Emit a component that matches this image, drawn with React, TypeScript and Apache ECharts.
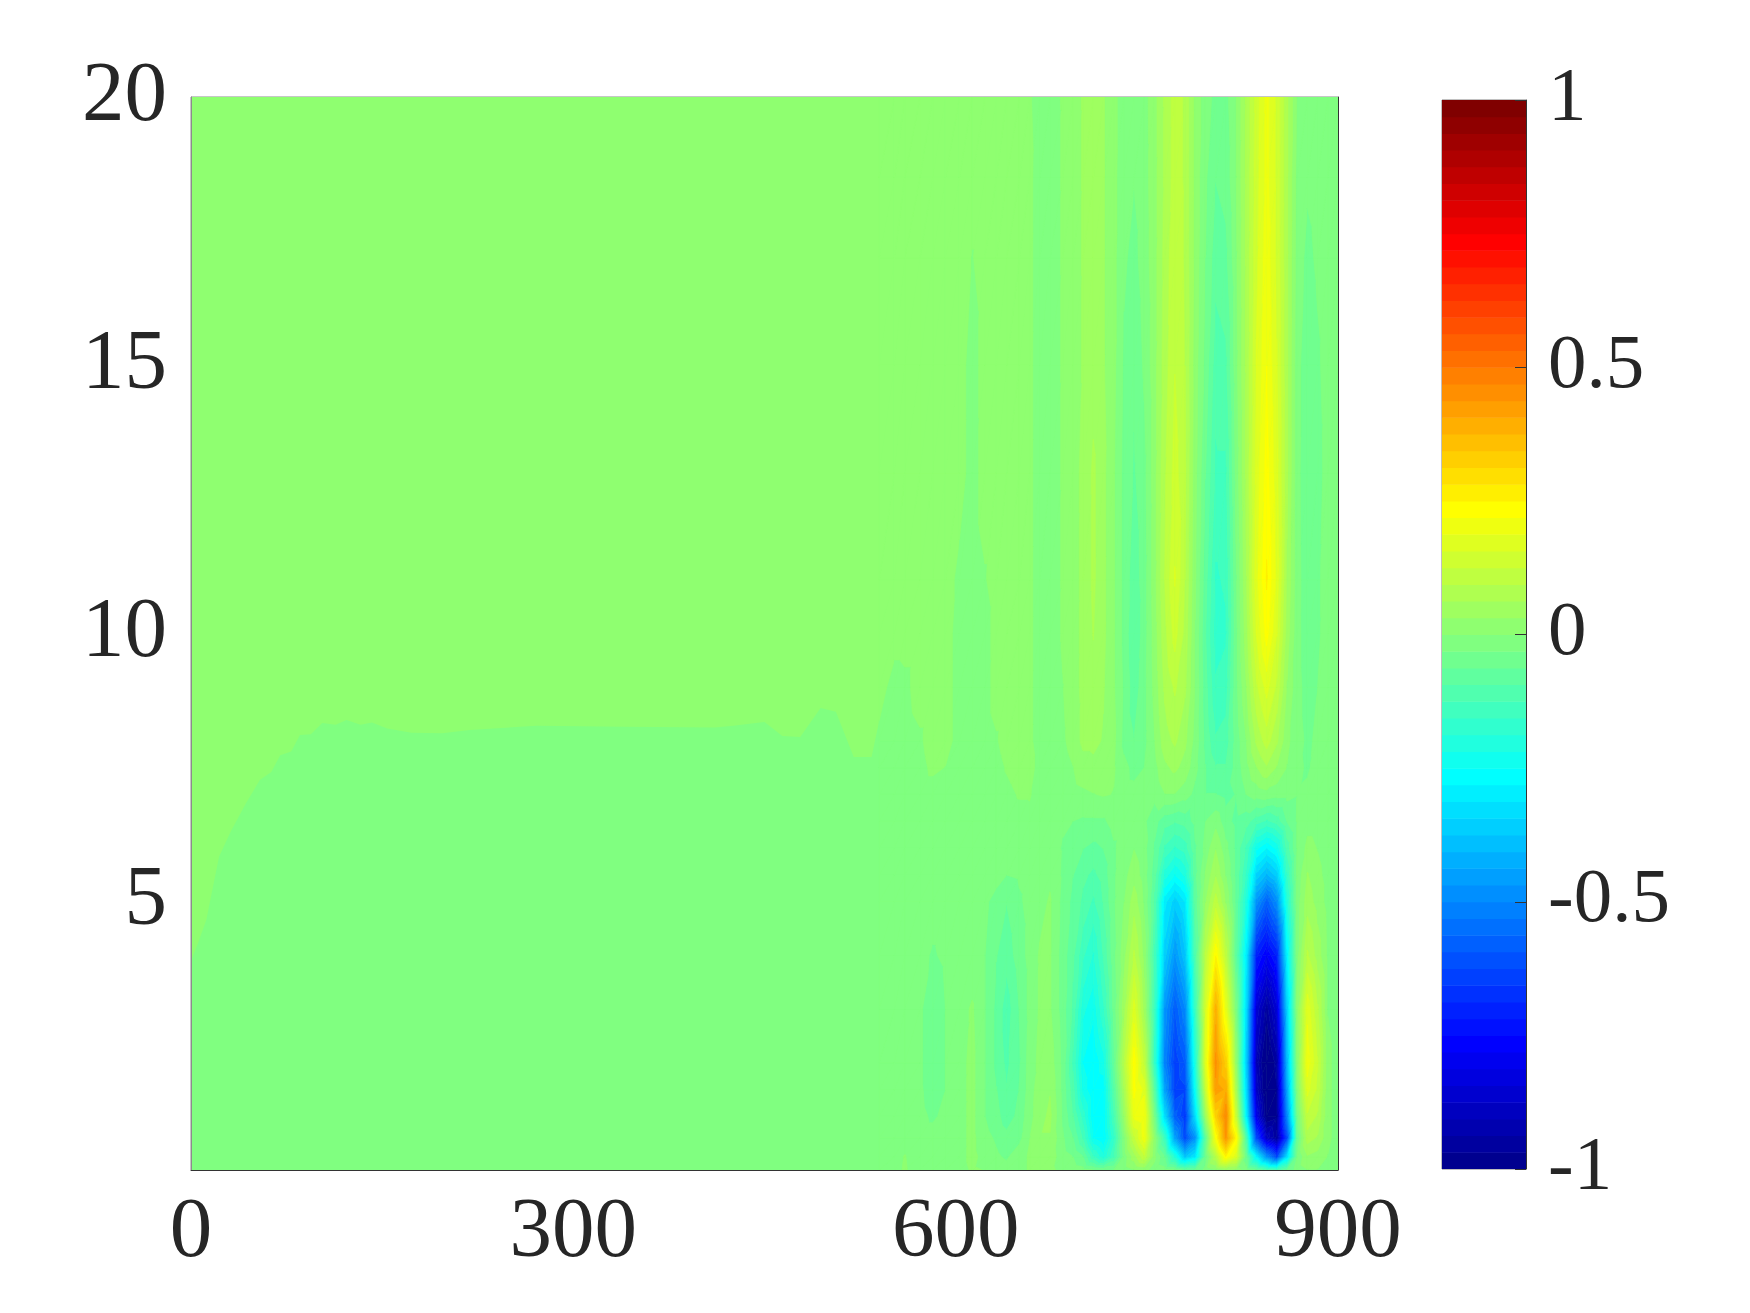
import React, { useEffect, useRef } from "react";
import * as echarts from "echarts";

const xTicks = [0, 300, 600, 900];
const yTicks = [5, 10, 15, 20];
const barTicks = [-1, -0.5, 0, 0.5, 1];
const levelCount = 64;
const zeroOffset = 0.03125;
const upperBase = 0.05;
const lowerBase = 0.012;

// the zero contour on the quiet left part of the field
const contourX = [0, 5, 12, 22, 31, 43, 54, 63, 70, 78.6, 85.5, 94, 103, 113.5, 122, 133, 142, 154, 173, 197, 218.7, 271, 340, 411, 425.5, 450, 464, 478, 494, 506, 520, 534, 540];
const contourY = [3.9, 4.2, 4.66, 5.84, 6.3, 6.83, 7.27, 7.42, 7.73, 7.8, 8.11, 8.12, 8.33, 8.3, 8.39, 8.3, 8.34, 8.23, 8.15, 8.14, 8.2, 8.28, 8.26, 8.25, 8.28, 8.35, 8.09, 8.07, 8.61, 8.54, 7.7, 7.7, 8.37];

const fieldX = [540, 552, 560, 572, 582, 592, 603, 613, 623, 632, 640, 650, 658, 666, 674, 684, 692, 700, 708, 716, 724, 732, 740, 748, 756, 764, 772, 780, 788, 796, 804, 812, 820, 828, 836, 844, 852, 860, 868, 876, 884, 892, 900];
const fieldY = [0, 0.25, 0.6, 1, 1.5, 2, 3, 4, 5, 5.5, 6, 6.5, 7, 7.5, 8, 9, 10, 11, 13, 15, 17, 18.5, 20];

const fieldLeft = [
  [.012,.02,.035,.012,.012,.012,.02,.035,.03,.02,.012,.02,.035,.04,.04],
  [.012,.02,.033,.012,.012,.012,.02,.04,.02,.005,-.005,.02,.035,.05,.05],
  [.012,.012,.015,.012,.012,.012,.02,.04,.01,-.005,-.02,-.01,.03,.06,.06],
  [.012,.012,.012,.008,-.005,.008,.02,.04,0,-.02,-.05,-.02,.02,.05,.07],
  [.012,.012,.012,.005,-.015,0,.02,.04,0,-.03,-.06,-.03,.015,.05,.06],
  [.012,.012,.012,.005,-.02,0,.02,.04,0,-.04,-.07,-.035,.015,.04,.05],
  [.012,.012,.012,.005,-.02,0,.02,.035,0,-.04,-.08,-.03,.01,.035,.035],
  [.012,.012,.012,.008,-.003,.005,.012,.012,0,-.03,-.05,-.015,.01,.035,.035],
  [.012,.012,.012,.012,.012,.012,.012,.01,.005,-.01,-.03,-.005,.01,.02,.035],
  [.012,.012,.012,.012,.012,.012,.012,.012,.012,.01,0,.005,.012,.03,.025],
  [.012,.012,.012,.012,.012,.012,.012,.012,.012,.012,.012,.012,.012,.015,.015],
  [.012,.012,.012,.012,.012,.012,.012,.012,.012,.012,.012,.015,.02,.012,.012],
  [.012,.012,.012,.012,.012,.012,.012,.012,.012,.012,.02,.035,.035,.012,.012],
  [.012,.012,.012,.018,.04,.03,.012,.012,.012,.015,.035,.05,.05,.012,.012],
  [.02,.012,.012,.025,.05,.05,.012,.012,.012,.027,.05,.05,.04,.012,.012],
  [.05,.012,.02,.05,.05,.05,.012,.012,.012,.05,.05,.05,.04,.012,.012],
  [.05,.05,.05,.05,.05,.05,.012,.012,.012,.05,.05,.05,.04,.012,.012],
  [.05,.05,.05,.05,.05,.05,.02,.012,.028,.05,.05,.05,.04,.012,.012],
  [.05,.05,.05,.05,.05,.05,.05,.012,.05,.05,.05,.05,.04,.012,.012],
  [.05,.05,.05,.05,.05,.05,.05,.012,.05,.05,.05,.05,.04,.012,.012],
  [.05,.05,.05,.05,.05,.05,.05,.029,.05,.05,.05,.05,.04,.012,.012],
  [.05,.05,.05,.05,.05,.05,.05,.05,.05,.05,.05,.05,.04,.012,.012],
  [.05,.05,.05,.05,.05,.05,.05,.05,.05,.05,.05,.05,.035,.015,.015],
];

const fieldRight = [
  [.02,.015,.01,0,-.01,0,.015,.03,.04,.02,.01,0,-.04,-.03,.01,.03,.06,.05,.01,-.03,-.08,-.1,-.03,.015,.03,.03,.02,.015],
  [.012,0,-.03,-.12,-.18,-.1,.01,.08,.15,.04,-.03,-.17,-.35,-.28,-.02,.12,.28,.2,-.02,-.25,-.45,-.6,-.3,0,.06,.05,.03,.015],
  [.005,-.03,-.1,-.22,-.25,-.14,.02,.15,.24,.05,-.12,-.42,-.6,-.45,-.05,.25,.47,.28,-.08,-.6,-.85,-.93,-.6,-.03,.11,.09,.04,.015],
  [-.005,-.06,-.14,-.25,-.25,-.1,.06,.23,.25,0,-.3,-.55,-.63,-.3,.07,.35,.5,.16,-.25,-.78,-.97,-.95,-.48,-.01,.15,.12,.04,.015],
  [-.01,-.08,-.2,-.25,-.24,-.07,.09,.26,.21,-.06,-.42,-.62,-.6,-.22,.15,.46,.43,.1,-.3,-.85,-1,-.94,-.42,.02,.2,.15,.04,.015],
  [-.01,-.1,-.22,-.25,-.2,-.04,.12,.27,.15,-.13,-.48,-.62,-.56,-.18,.2,.48,.36,.06,-.33,-.88,-1,-.92,-.38,.03,.24,.16,.04,.015],
  [-.015,-.07,-.18,-.21,-.13,-.02,.08,.2,.08,-.12,-.44,-.56,-.47,-.12,.18,.42,.22,.01,-.3,-.82,-.92,-.82,-.33,.04,.21,.13,.03,.015],
  [-.015,-.055,-.12,-.16,-.09,-.01,.05,.13,.05,-.1,-.33,-.44,-.35,-.08,.13,.28,.14,-.05,-.27,-.68,-.75,-.68,-.26,.02,.13,.08,.025,.015],
  [-.01,-.04,-.07,-.1,-.06,-.005,.03,.08,.025,-.07,-.27,-.33,-.28,-.05,.06,.14,.06,-.04,-.18,-.45,-.55,-.46,-.17,.015,.08,.05,.02,.015],
  [-.005,-.03,-.055,-.07,-.05,-.005,.02,.05,.015,-.05,-.17,-.22,-.18,-.04,.035,.09,.03,-.04,-.13,-.32,-.38,-.33,-.13,.01,.065,.04,.02,.015],
  [-.003,-.02,-.03,-.04,-.03,-.005,.015,.03,.01,-.035,-.1,-.13,-.11,-.035,.01,.06,.01,-.04,-.1,-.21,-.25,-.21,-.08,.003,.04,.03,.015,.015],
  [.005,0,-.005,-.005,-.005,.012,.012,.015,.005,-.02,-.05,-.06,-.05,-.02,0,.02,-.02,-.04,-.05,-.08,-.1,-.08,-.03,.003,.02,.02,.015,.015],
  [.012,.02,.025,.03,.034,.03,.012,.01,.01,.01,.03,.03,.015,-.01,-.03,-.03,-.04,-.03,0,.012,.02,.012,.01,.002,.005,.012,.015,.015],
  [.015,.03,.05,.055,.05,.035,.01,-.01,0,.02,.055,.07,.05,.01,-.03,-.06,-.06,-.02,.02,.06,.09,.06,.03,.005,-.003,.008,.015,.015],
  [.025,.045,.07,.07,.06,.04,-.01,-.03,-.01,.03,.08,.1,.07,.02,-.04,-.09,-.08,-.02,.03,.1,.14,.1,.04,.01,-.005,.005,.01,.015],
  [.03,.05,.07,.085,.065,.035,-.005,-.05,-.01,.04,.1,.13,.1,.03,-.05,-.12,-.11,-.01,.06,.15,.2,.15,.06,.01,-.012,0,.012,.015],
  [.035,.05,.07,.095,.07,.035,-.01,-.06,-.015,.045,.115,.17,.115,.03,-.06,-.14,-.13,-.01,.08,.19,.265,.19,.08,.01,-.018,-.005,.012,.015],
  [.035,.05,.07,.1,.07,.035,-.01,-.05,-.015,.05,.125,.19,.125,.035,-.05,-.13,-.12,-.005,.09,.21,.285,.21,.09,.012,-.02,-.005,.012,.015],
  [.035,.05,.07,.1,.07,.035,-.01,-.035,-.01,.05,.12,.17,.13,.04,-.03,-.1,-.1,.01,.1,.2,.265,.2,.1,.01,-.025,-.01,.01,.015],
  [.035,.05,.065,.08,.065,.04,-.005,-.025,.005,.05,.11,.155,.125,.045,-.01,-.08,-.07,.02,.1,.19,.25,.19,.1,.01,-.02,-.005,.012,.015],
  [.035,.05,.065,.07,.065,.04,.005,-.01,.015,.05,.105,.15,.12,.05,0,-.05,-.04,.025,.1,.18,.24,.18,.1,.015,-.008,.005,.015,.015],
  [.035,.05,.065,.07,.065,.04,.012,.002,.018,.05,.1,.14,.12,.05,.005,-.03,-.02,.03,.1,.175,.23,.18,.1,.02,.005,.012,.015,.015],
  [.035,.05,.065,.07,.065,.04,.015,.01,.02,.05,.1,.14,.12,.05,.015,-.01,-.01,.03,.1,.17,.23,.18,.1,.03,.015,.015,.015,.015],
];

// MATLAB's 64-level jet, 1-based n
function jetColor(n: number) {
  const u = (k: number) => (k < 1 || k > 47 ? 0 : k <= 16 ? k / 16 : k <= 31 ? 1 : (48 - k) / 16);
  const c = (t: number) => Math.round(t * 255);
  return `rgb(${c(u(n - 24))},${c(u(n - 8))},${c(u(n + 8))})`;
}
function binOf(v: number) {
  return Math.max(0, Math.min(levelCount - 1, Math.floor(((v + 1) / 2) * levelCount)));
}
function colorOf(v: number) {
  return jetColor(binOf(v) + 1);
}

type V3 = [number, number, number];
function clip(poly: V3[], level: number, keepAbove: boolean): V3[] {
  const out: V3[] = [];
  for (let i = 0; i < poly.length; i++) {
    const a = poly[i];
    const b = poly[(i + 1) % poly.length];
    const ia = keepAbove ? a[2] >= level : a[2] <= level;
    const ib = keepAbove ? b[2] >= level : b[2] <= level;
    if (ia) out.push(a);
    if (ia !== ib) {
      const t = (level - a[2]) / (b[2] - a[2]);
      out.push([a[0] + t * (b[0] - a[0]), a[1] + t * (b[1] - a[1]), level]);
    }
  }
  return out;
}

const field = fieldY.map((_, r) => [...fieldLeft[r], ...fieldRight[r]].map((v) => v - zeroOffset));
const triangles: V3[][] = [];
for (let r = 0; r < fieldY.length - 1; r++) {
  for (let c = 0; c < fieldX.length - 1; c++) {
    const p = (rr: number, cc: number): V3 => [fieldX[cc], fieldY[rr], field[rr][cc]];
    triangles.push([p(r, c), p(r, c + 1), p(r + 1, c + 1)]);
    triangles.push([p(r, c), p(r + 1, c + 1), p(r + 1, c)]);
  }
}

const lowerOutline = [[0, 0], ...contourX.map((x, i) => [x, contourY[i]]), [540, 0]];
const upperOutline = [[0, 0], [0, 20], [900, 20], [900, 0]];

const FONT = "Liberation Serif";
const INK = "#262626";

export default function App() {
  const ref = useRef<HTMLDivElement>(null);
  useEffect(() => {
    const chart = echarts.init(ref.current!, null, { renderer: "svg" });
    chart.setOption({
      animation: false,
      backgroundColor: "#ffffff",
      grid: [
        { left: 191, right: 412, top: 97, bottom: 143, show: true, borderColor: "#8c8c8c", borderWidth: 1, containLabel: false },
        { left: 1442, right: 224, top: 100, bottom: 144, show: true, borderColor: "#808080", borderWidth: 1, containLabel: false },
      ],
      xAxis: [
        {
          type: "value", gridIndex: 0, min: 0, max: 900, interval: 300, z: 5,
          axisLine: { show: true, onZero: false, lineStyle: { color: "#333333", width: 1 } },
          axisTick: { show: false }, splitLine: { show: false },
          axisLabel: { show: true, color: INK, fontFamily: FONT, fontSize: 85, margin: 14, customValues: xTicks, formatter: (v: number) => String(v) },
        },
        {
          type: "value", gridIndex: 1, min: 0, max: 1, z: 5,
          axisLine: { show: false }, axisTick: { show: false }, splitLine: { show: false }, axisLabel: { show: false },
        },
      ],
      yAxis: [
        {
          type: "value", gridIndex: 0, min: 0, max: 20, interval: 5, z: 5,
          axisLine: { show: true, onZero: false, lineStyle: { color: "#8c8c8c", width: 1 } },
          axisTick: { show: false }, splitLine: { show: false },
          axisLabel: { show: true, color: INK, fontFamily: FONT, fontSize: 85, margin: 24, verticalAlign: "bottom", lineHeight: 13, formatter: (v: number) => (yTicks.includes(v) ? String(v) : "") },
        },
        {
          type: "value", gridIndex: 0, min: 0, max: 20, interval: 5, position: "right", z: 5,
          axisLine: { show: true, onZero: false, lineStyle: { color: "#333333", width: 1 } },
          axisTick: { show: false }, splitLine: { show: false }, axisLabel: { show: false },
        },
        {
          type: "value", gridIndex: 1, min: -1, max: 1, interval: 0.5, position: "right", z: 5,
          axisLine: { show: true, onZero: false, lineStyle: { color: "#333333", width: 1 } },
          axisTick: { show: true, inside: true, length: 11, lineStyle: { color: "#333333", width: 1 } },
          splitLine: { show: false },
          axisLabel: { show: true, color: INK, fontFamily: FONT, fontSize: 77, margin: 22, verticalAlign: "bottom", lineHeight: 13, formatter: (v: number) => (barTicks.includes(v) ? String(v) : "") },
        },
      ],
      series: [
        {
          type: "custom", coordinateSystem: "cartesian2d", xAxisIndex: 0, yAxisIndex: 0, silent: true, clip: true, z: 1,
          data: [[upperBase], [lowerBase - zeroOffset]],
          renderItem: (params: any, api: any) => {
            const outline = params.dataIndex === 0 ? upperOutline : lowerOutline;
            const value = params.dataIndex === 0 ? upperBase - zeroOffset : lowerBase - zeroOffset;
            return {
              type: "polygon",
              shape: { points: outline.map((p) => api.coord(p)) },
              style: { fill: colorOf(value) },
            };
          },
        },
        {
          type: "custom", coordinateSystem: "cartesian2d", xAxisIndex: 0, yAxisIndex: 0, silent: true, clip: true, z: 2,
          data: triangles.map((_, i) => [i]),
          renderItem: (params: any, api: any) => {
            const tri = triangles[params.dataIndex];
            const vs = tri.map((p) => p[2]);
            const first = binOf(Math.min(...vs));
            const last = binOf(Math.max(...vs));
            const children: any[] = [];
            for (let b = first; b <= last; b++) {
              const lo = -1 + (2 * b) / levelCount;
              const hi = lo + 2 / levelCount;
              let poly: V3[] = tri;
              if (b > first) poly = clip(poly, lo, true);
              if (b < last) poly = clip(poly, hi, false);
              if (poly.length < 3) continue;
              const fill = jetColor(b + 1);
              children.push({
                type: "polygon",
                shape: { points: poly.map((p) => api.coord([p[0], p[1]])) },
                style: { fill, stroke: fill, lineWidth: 0.6 },
              });
            }
            return { type: "group", children };
          },
        },
        {
          type: "custom", coordinateSystem: "cartesian2d", xAxisIndex: 1, yAxisIndex: 2, silent: true, clip: true, z: 2,
          data: Array.from({ length: levelCount }, (_, i) => [i]),
          renderItem: (params: any, api: any) => {
            const i = params.dataIndex;
            const a = api.coord([0, -1 + (2 * i) / levelCount]);
            const b = api.coord([1, -1 + (2 * (i + 1)) / levelCount]);
            return {
              type: "rect",
              shape: { x: a[0], y: b[1], width: b[0] - a[0], height: a[1] - b[1] + 0.5 },
              style: { fill: jetColor(i + 1) },
            };
          },
        },
      ],
    });
    return () => chart.dispose();
  }, []);
  return <div ref={ref} style={{ position: "absolute", left: 0, top: 0, width: 1750, height: 1313 }} />;
}
